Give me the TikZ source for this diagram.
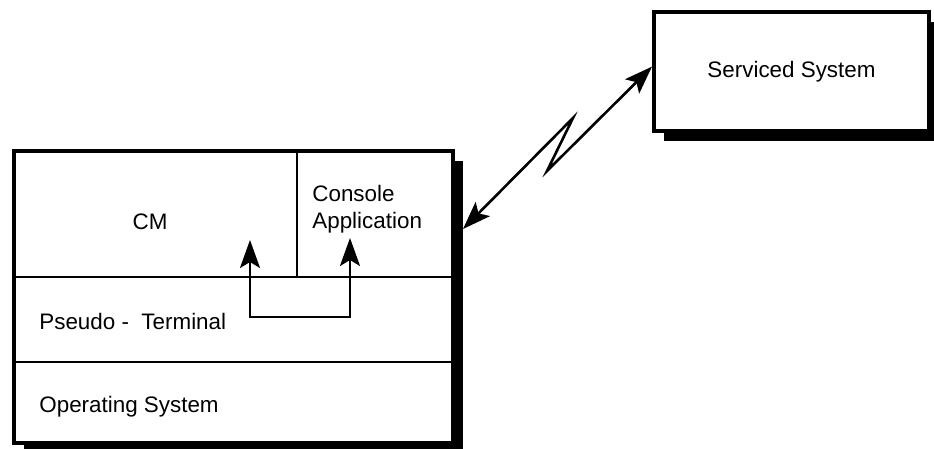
\documentclass[tikz,border=0pt]{standalone}
\usepackage{fontspec}
\setmainfont{Liberation Sans}
\usetikzlibrary{arrows.meta,shadows}

\begin{document}
\begin{tikzpicture}[x=0.5pt, y=-0.5pt,
  every node/.style={font=\fontsize{11.2}{13.5}\selectfont},
  shadowbox/.style={draw, line width=2pt, fill=white,
    drop shadow={shadow xshift=5pt, shadow yshift=-5pt, fill=black, opacity=1}},
  label/.style={inner sep=0pt},
  layer/.style={line width=1.2pt},
  link/.style={line width=1.3pt,
    {Stealth[length=14pt,width=10pt,inset=3pt]}-{Stealth[length=14pt,width=10pt,inset=3pt]}}]
  \useasboundingbox (0,0) rectangle (934,449);
  % local workstation
  \node[shadowbox, minimum width=219.5pt, minimum height=146pt] (host) at (233.5,297) {};
  \draw[layer] (14,277) -- (453,277);
  \draw[layer] (14,362) -- (453,362);
  \draw[layer] (297,151) -- (297,277);
  \node[label] (cm) at (150,222) {CM};
  \node[label, anchor=west, align=left] (console) at (312,209) {Console\\Application};
  \node[label, anchor=base west] (pty) at (39,330) {Pseudo -\ \ Terminal};
  \node[label, anchor=base west] (os) at (39,413) {Operating System};
  \coordinate (cmtip) at (250,240);
  \coordinate (apptip) at (350,238);
  \draw[link] (cmtip) -- ++(0,77) -| (apptip);
  % remote side
  \node[shadowbox, minimum width=137.5pt, minimum height=59.5pt] (svc) at (791.5,71.5) {Serviced System};
  \coordinate (hostport) at (463,229);
  \coordinate (kinkA) at (573,118);
  \coordinate (kinkB) at (547,171);
  \draw[link] (hostport) -- (kinkA) -- (kinkB) -- (svc.178);
\end{tikzpicture}
\end{document}
